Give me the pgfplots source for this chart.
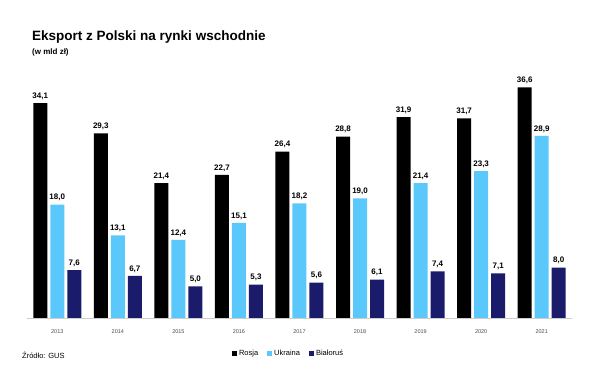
\documentclass[border=0pt]{standalone}
\usepackage{pgfplots}
\pgfplotsset{compat=1.18}
\usepackage{fontspec}
\setmainfont{Liberation Sans}
\definecolor{ruscol}{RGB}{0,0,0}
\definecolor{ukrcol}{RGB}{90,200,250}
\definecolor{blrcol}{RGB}{27,27,107}
\begin{document}
\begin{tikzpicture}[x=1pt,y=1pt]
\path[use as bounding box] (0,0) rectangle (598,371);
\node[anchor=base west,font=\bfseries\fontsize{13.5}{16}\selectfont,inner sep=0pt] at (32,330) {Eksport z Polski na rynki wschodnie};
\node[anchor=base west,font=\bfseries\fontsize{8}{9}\selectfont,inner sep=0pt] at (32,316) {(w mld zł)};
\node[anchor=base west,font=\fontsize{7.5}{9}\selectfont,inner sep=0pt] at (22,12) {Źródło: GUS};
\begin{axis}[
  at={(27pt,53pt)}, anchor=south west,
  scale only axis, width=545pt, height=252pt,
  xmin=-0.5, xmax=8.5, ymin=0, ymax=40,
  axis y line=none, axis x line*=bottom,
  x axis line style={draw=gray!40},
  xtick={0,...,8},
  xticklabels={2013,2014,2015,2016,2017,2018,2019,2020,2021},
  xtick style={draw=none},
  xticklabel style={font=\fontsize{5.5}{6}\selectfont, text=black!70, yshift=-4pt},
  /pgf/number format/assume math mode=true,
  ybar, bar width=14pt,
  nodes near coords,
  nodes near coords style={font=\bfseries\fontsize{8}{9}\selectfont, /pgf/number format/.cd, fixed, fixed zerofill, precision=1, use comma, assume math mode=true},
  legend style={at={(0.48,-0.11)}, anchor=north, draw=none, legend columns=3, font=\fontsize{7.5}{9}\selectfont, /tikz/every even column/.append style={column sep=7pt}},
  legend image code/.code={\fill[#1] (0pt,-2.5pt) rectangle (5pt,2.5pt);},
]
\addplot[fill=ruscol, draw=none, bar shift=-17pt] coordinates {(0,34.1) (1,29.3) (2,21.4) (3,22.7) (4,26.4) (5,28.8) (6,31.9) (7,31.7) (8,36.6)};
\addplot[fill=ukrcol, draw=none, bar shift=0pt] coordinates {(0,18.0) (1,13.1) (2,12.4) (3,15.1) (4,18.2) (5,19.0) (6,21.4) (7,23.3) (8,28.9)};
\addplot[fill=blrcol, draw=none, bar shift=17pt] coordinates {(0,7.6) (1,6.7) (2,5.0) (3,5.3) (4,5.6) (5,6.1) (6,7.4) (7,7.1) (8,8.0)};
\legend{Rosja, Ukraina, Białoruś}
\end{axis}
\end{tikzpicture}
\end{document}
